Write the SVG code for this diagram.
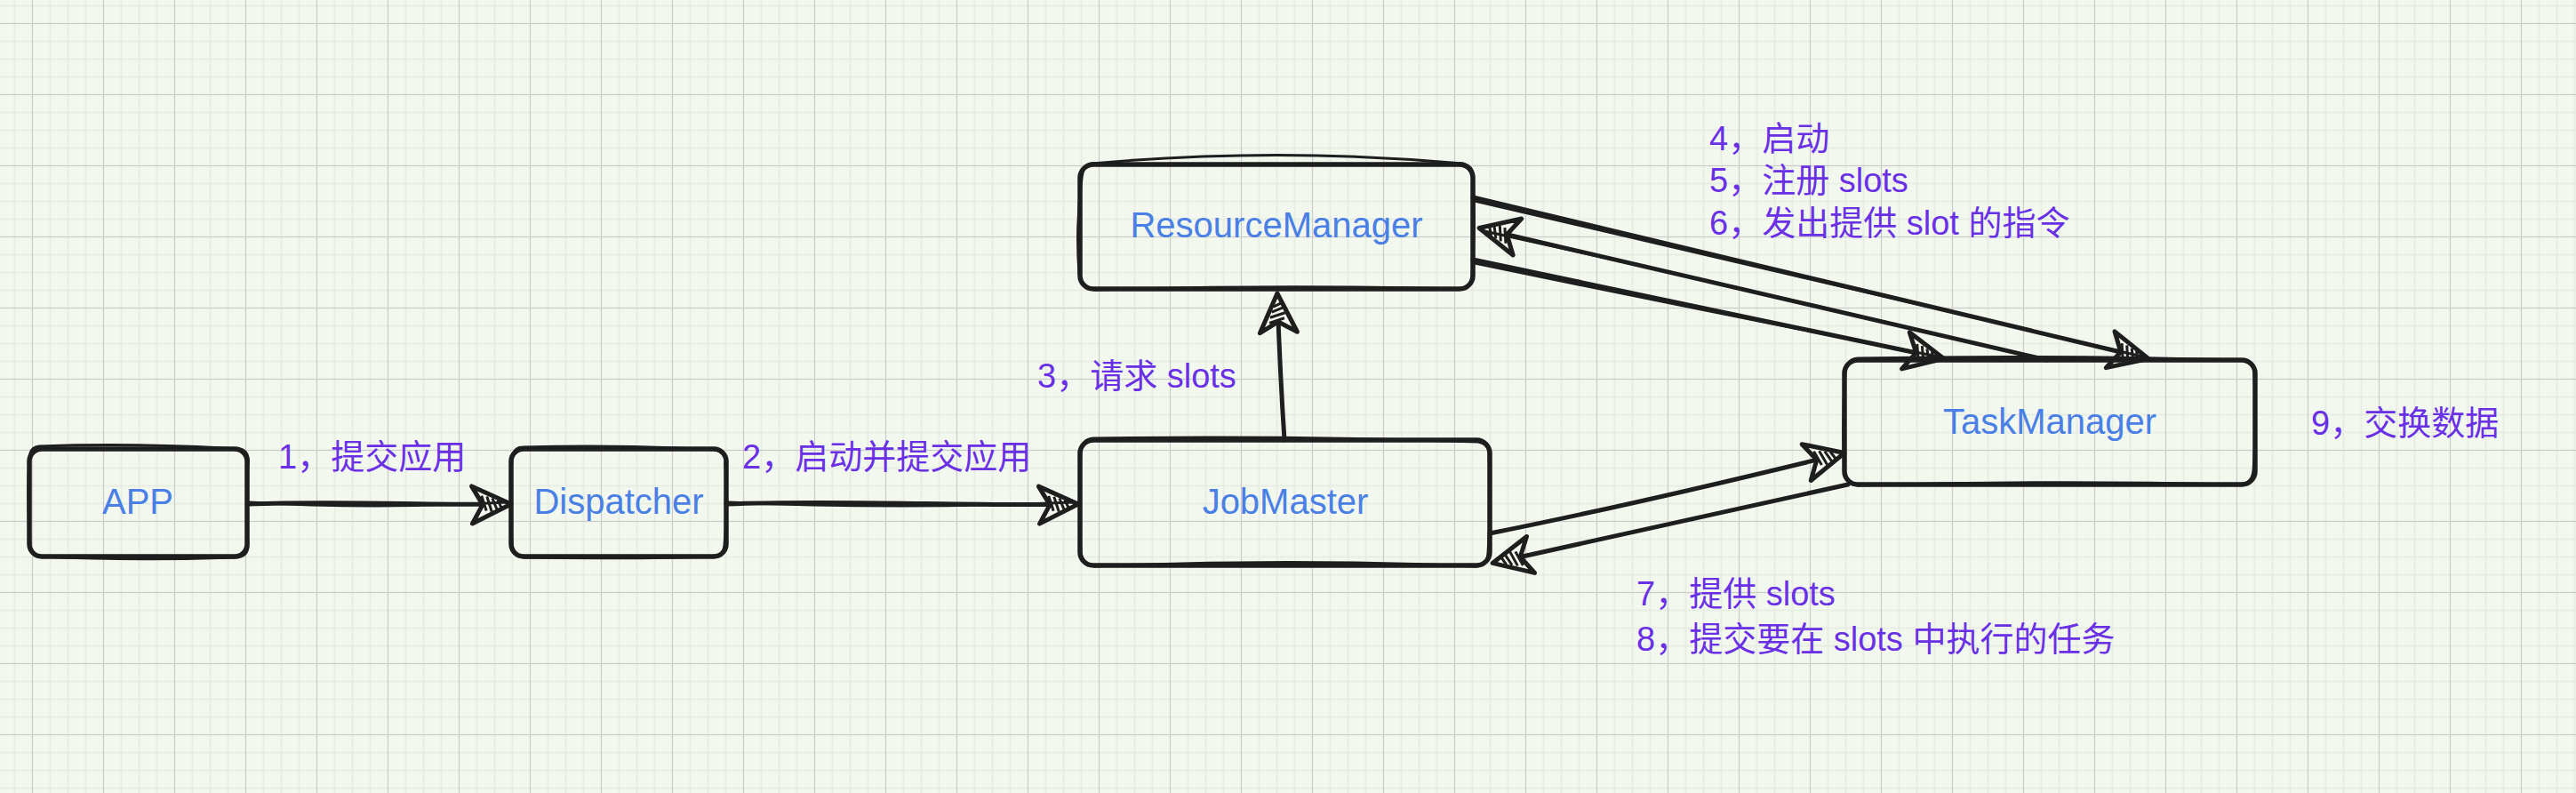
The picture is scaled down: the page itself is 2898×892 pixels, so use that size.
<svg xmlns="http://www.w3.org/2000/svg" width="2898" height="892" viewBox="0 0 2898 892">
<style>
.box{fill:none;stroke:#1e1e1e;stroke-width:5.5;stroke-linejoin:round;stroke-linecap:round}
.box2{fill:none;stroke:#1e1e1e;stroke-width:3;stroke-linejoin:round;stroke-linecap:round}
.conn{fill:none;stroke:#1e1e1e;stroke-width:5;stroke-linecap:round}
.conn2{fill:none;stroke:#1e1e1e;stroke-width:3;stroke-linecap:round}
.ntext{font-family:"Liberation Sans","Noto Sans CJK SC",sans-serif;font-size:40px;fill:#4a7fe6;text-anchor:middle}
.lbl{font-family:"Liberation Sans","Noto Sans CJK SC",sans-serif;font-size:38px;fill:#6a30e6}
</style>
<defs>
<pattern id="grid" x="0" y="0" width="80" height="80" patternUnits="userSpaceOnUse">
<path d="M16.5,0V80M36.5,0V80M56.5,0V80M76.5,0V80M0,6.5H80M0,26.5H80M0,46.5H80M0,66.5H80" stroke="#e8ede4" stroke-width="2"/>
<path d="M36.5,0V80M0,26.5H80" stroke="#cbcbcb" stroke-width="1"/>
</pattern>
<marker id="ah" markerUnits="userSpaceOnUse" orient="auto" refX="0" refY="0" markerWidth="1" markerHeight="1" overflow="visible">
<path d="M2,0 L-42,-21 L-30,0 L-42,21 Z" fill="#f3f8ee" stroke="#1e1e1e" stroke-width="5" stroke-linejoin="round"/>
<path d="M-31,-10 L-26,7 M-25,-9 L-20,8 M-19,-7 L-14,6 M-13,-5 L-9,4" stroke="#1e1e1e" stroke-width="3" fill="none"/>
</marker>
</defs>
<rect x="0" y="0" width="2898" height="892" fill="#f3f8ee"/>
<rect x="0" y="0" width="2898" height="892" fill="url(#grid)"/>

<g id="connectors">
<path class="conn" d="M278,567 C400,563 480,569 573,567" marker-end="url(#ah)"/>
<path class="conn2" d="M280,565 Q420,573 570,565"/>
<path class="conn" d="M817,567 C950,562 1100,570 1211,567" marker-end="url(#ah)"/>
<path class="conn2" d="M819,565 Q1010,573 1208,565"/>
<path class="conn" d="M1445,495 Q1440,420 1437,332" marker-end="url(#ah)"/>
<path class="conn" d="M1657,222 L2415,403" marker-end="url(#ah)"/>
<path class="conn2" d="M1659,226 Q2050,318 2410,401"/>
<path class="conn" d="M2303,405 L1666,257" marker-end="url(#ah)"/>
<path class="conn2" d="M2296,404 Q1990,330 1670,260"/>
<path class="conn" d="M1657,292 L2185,403" marker-end="url(#ah)"/>
<path class="conn2" d="M1659,296 Q1920,350 2180,401"/>
<path class="conn" d="M1676,600 Q1850,565 2073,510" marker-end="url(#ah)"/>
<path class="conn" d="M2079,545 L1681,633" marker-end="url(#ah)"/>
</g>

<g id="node-app">
<rect class="box" x="33" y="505" width="245" height="121" rx="14"/>
<path class="box2" d="M44,502 Q150,498 270,505 Q281,508 279,522 Q276,570 279,616 Q277,628 262,627 Q150,631 46,626 Q33,623 34,610 Q30,560 33,517 Q33,503 44,502"/>
<text class="ntext" x="155" y="578">APP</text>
</g>

<g id="node-dispatcher">
<rect class="box" x="575" y="505" width="242" height="121" rx="14"/>
<path class="box2" d="M588,503 Q700,500 806,506 Q818,510 816,522 Q819,570 815,614 Q814,627 800,626 Q700,629 590,627 Q576,624 576,610 Q573,560 576,517 Q577,503 588,503"/>
<text class="ntext" x="696" y="578">Dispatcher</text>
</g>

<g id="node-jobmaster">
<rect class="box" x="1215" y="495" width="461" height="141" rx="15"/>
<path class="box2" d="M1230,493 Q1450,490 1663,497 Q1677,500 1675,512 Q1678,570 1674,622 Q1673,637 1660,637 Q1450,628 1232,637 Q1216,634 1216,620 Q1213,560 1216,508 Q1217,494 1230,493"/>
<text class="ntext" x="1446" y="578">JobMaster</text>
</g>

<g id="node-resourcemanager">
<rect class="box" x="1215" y="185" width="442" height="140" rx="15"/>
<path class="box2" d="M1228,184 Q1436,165 1646,184 Q1659,188 1657,200 Q1660,255 1656,311 Q1654,326 1640,325 Q1436,320 1232,326 Q1216,322 1214,308 Q1210,255 1217,200 Q1218,186 1228,184"/>
<text class="ntext" x="1436" y="267">ResourceManager</text>
</g>

<g id="node-taskmanager">
<rect class="box" x="2075" y="405" width="462" height="140" rx="15"/>
<path class="box2" d="M2090,403 Q2300,399 2523,405 Q2537,408 2536,420 Q2539,475 2535,530 Q2533,546 2518,545 Q2300,540 2090,546 Q2076,543 2075,530 Q2072,475 2076,419 Q2077,404 2090,403"/>
<text class="ntext" x="2306" y="488">TaskManager</text>
</g>

<g id="labels">
<text class="lbl" x="313" y="527">1，提交应用</text>
<text class="lbl" x="835" y="527">2，启动并提交应用</text>
<text class="lbl" x="1167" y="436">3，请求 slots</text>
<text class="lbl" x="1923" y="169">4，启动</text>
<text class="lbl" x="1923" y="216">5，注册 slots</text>
<text class="lbl" x="1923" y="264">6，发出提供 slot 的指令</text>
<text class="lbl" x="1841" y="681">7，提供 slots</text>
<text class="lbl" x="1841" y="732">8，提交要在 slots 中执行的任务</text>
<text class="lbl" x="2600" y="489">9，交换数据</text>
</g>
</svg>
